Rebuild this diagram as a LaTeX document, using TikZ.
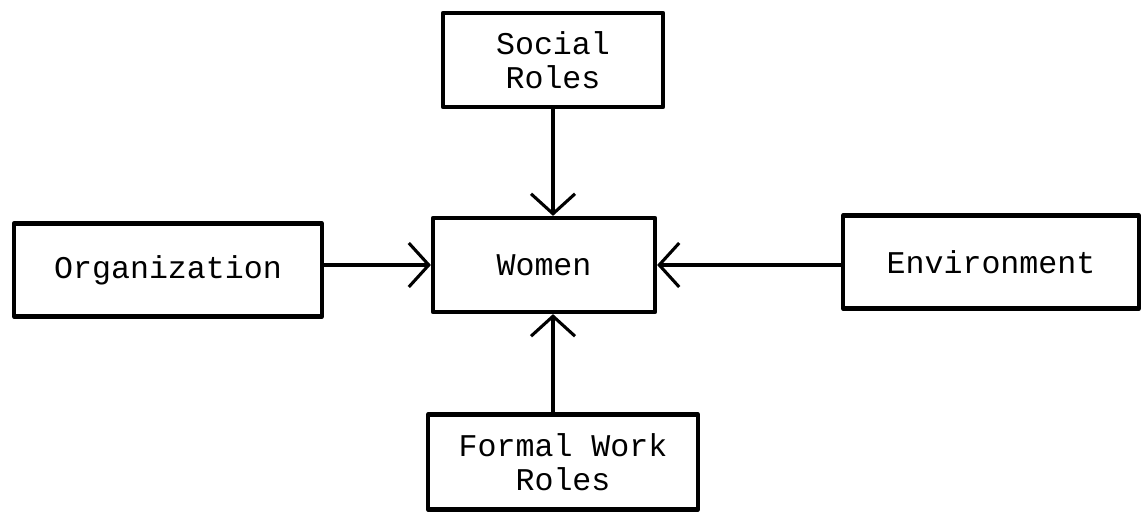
\documentclass[tikz,border=0pt]{standalone}
\usepackage{fontspec}
\setmonofont{Liberation Mono}
\usetikzlibrary{%
  arrows.meta,% wg. Straight Barb
  positioning%
}

\begin{document}
\begin{tikzpicture}[
    >={Straight Barb[length=5mm,width=11mm]},
    line join=round,line cap=round,
    factor/.style={rectangle,draw,line width=3pt,fill=white,
        inner sep=0pt,align=center,font=\ttfamily\fontsize{22.5}{24}\selectfont},
    link/.style={->,line width=2.2pt}
  ]

    \useasboundingbox (0,0) rectangle (28.7,-12.825);

    \node (women)  [factor,minimum width=5.55cm,minimum height=2.35cm]
        at (13.6,-6.625) {Women};
    \node (social) [factor,minimum width=5.5cm,minimum height=2.35cm]
        at (13.825,-1.5) {Social\\Roles};
    \node (organization) [factor,minimum width=7.7cm,minimum height=2.325cm]
        at (4.2,-6.75) {Organization};
    \node (environment)  [factor,minimum width=7.4cm,minimum height=2.325cm]
        at (24.775,-6.55) {Environment};
    \node (formal) [factor,minimum width=6.75cm,minimum height=2.375cm]
        at (14.075,-11.55) {Formal Work\\Roles};

    \begin{scope}[every path/.style=link]
        \draw (social.south) -- (social.south |- women.north);
        \draw (organization.east |- women) -- (women.west);
        \draw (environment.west |- women) -- (women.east);
        \draw (formal.north -| social.south) -- (social.south |- women.south);
    \end{scope}
\end{tikzpicture}
\end{document}
